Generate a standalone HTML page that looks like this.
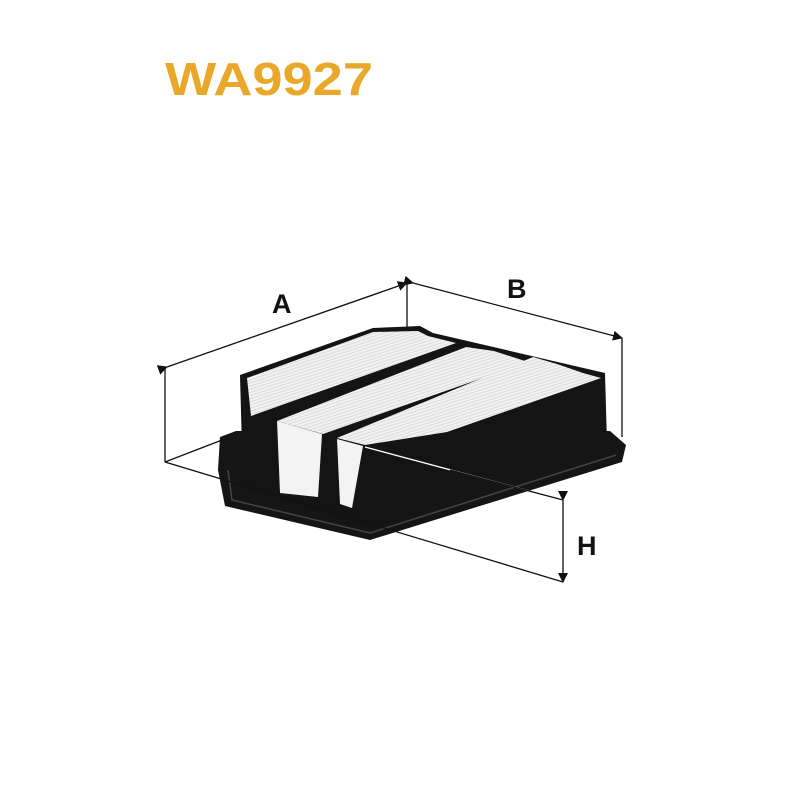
<!DOCTYPE html>
<html><head><meta charset="utf-8"><style>html,body{margin:0;padding:0;background:#fff}svg{display:block}</style></head>
<body>
<svg width="800" height="800" viewBox="0 0 800 800" xmlns="http://www.w3.org/2000/svg">
<defs>
<pattern id="pl" width="3" height="3" patternUnits="userSpaceOnUse" patternTransform="rotate(72)">
<rect width="3" height="3" fill="#f2f2f2"/><rect width="1" height="3" fill="#dcdcdc"/>
</pattern>
<marker id="ar" markerWidth="10" markerHeight="10" refX="9" refY="5" orient="auto" markerUnits="userSpaceOnUse">
<path d="M0,0 L10,5 L0,10 Z" fill="#111"/></marker>
</defs>
<text x="165" y="95" font-family="Liberation Sans, sans-serif" font-weight="bold" font-size="46" fill="#eaa82a" textLength="208" lengthAdjust="spacingAndGlyphs">WA9927</text>

<!-- tray -->
<polygon points="220,437 236,431 610,431 626,445 622,462 370,540 225,506 218,470" fill="#151515"/>
<polyline points="228,470 232,500 370,533 616,455" fill="none" stroke="#444" stroke-width="1.5"/>
<!-- body -->
<polygon points="240,375 373,328 420,326 433,333 605,373 607,443 370,530 243,485" fill="#141414"/>
<!-- panel 1 -->
<polygon points="247,378 373,332 418,331 428,336 456,343 251,416" fill="url(#pl)"/>
<!-- panel 2 -->
<polygon points="277,421 466,347 494,351 528,362 323,434" fill="url(#pl)"/>
<polygon points="277,421 322,434 318,497 280,493" fill="#f3f3f3"/>
<!-- panel 3 -->
<polygon points="337,438 533,357 557,364 583,373 601,378 447,432 365,445" fill="url(#pl)"/>
<polygon points="337,439 363,446 352,508 340,504" fill="#f3f3f3"/>

<!-- dimension lines -->
<g stroke="#111" stroke-width="1.3" fill="none">
<line x1="167" y1="367" x2="407" y2="283" marker-start="url(#ar)" marker-end="url(#ar)"/>
<line x1="413" y1="283" x2="622" y2="338" marker-start="url(#ar)" marker-end="url(#ar)"/>
<line x1="407" y1="283" x2="407" y2="327"/>
<line x1="622" y1="338" x2="622" y2="437"/>
<line x1="165" y1="367" x2="165" y2="462"/>
<line x1="165" y1="462" x2="222" y2="440"/>
<line x1="165" y1="462" x2="563" y2="582"/>
<line x1="563" y1="500" x2="563" y2="582" marker-start="url(#ar)" marker-end="url(#ar)"/>
</g>
<line x1="365" y1="447" x2="563" y2="500" stroke="#fff" stroke-width="1.3"/>
<line x1="450" y1="470" x2="563" y2="500" stroke="#111" stroke-width="1.3"/>
<g font-family="Liberation Sans, sans-serif" font-weight="bold" font-size="27" fill="#111">
<text x="272" y="313">A</text>
<text x="507" y="298">B</text>
<text x="577" y="555">H</text>
</g>
</svg>
</body></html>
